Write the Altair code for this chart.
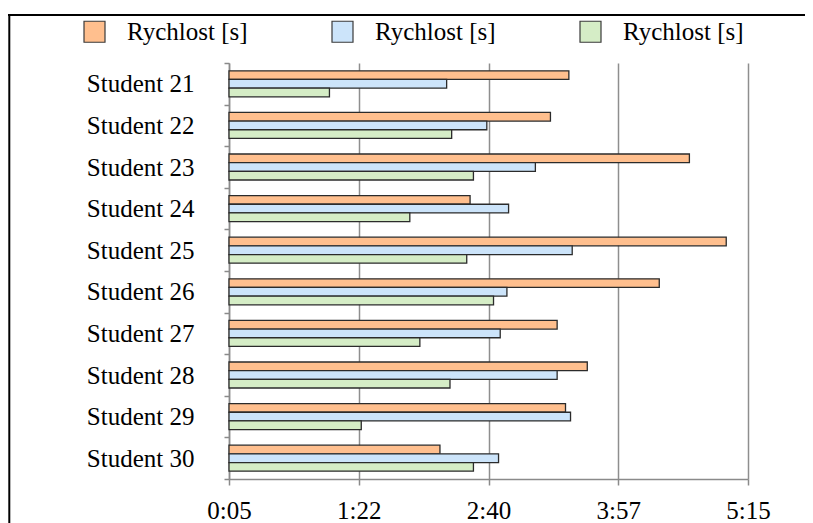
import altair as alt
import pandas as pd

students = ["Student 21", "Student 22", "Student 23", "Student 24", "Student 25",
            "Student 26", "Student 27", "Student 28", "Student 29", "Student 30"]
# times in seconds
series_a = [208, 197, 280, 149, 302, 262, 201, 219, 206, 131]
series_b = [135, 159, 188, 172, 210, 171, 167, 201, 209, 166]
series_c = [65, 138, 151, 113, 147, 163, 119, 137, 84, 151]
series_keys = ["s1", "s2", "s3"]
series_label = "Rychlost [s]"
colors = ["#FFBF8E", "#CCE4FA", "#D5EDC6"]
tick_values = [5, 82.5, 160, 237.5, 315]

rows = []
for key, vals in zip(series_keys, [series_a, series_b, series_c]):
    for s, v in zip(students, vals):
        rows.append({"student": s, "series": key, "value": v})
df = pd.DataFrame(rows)

FONT = "Liberation Serif"

label_expr = ("floor(datum.value/60) + ':' + (floor(datum.value%60) < 10 ? '0' : '') "
              "+ floor(datum.value%60)")

bars = alt.Chart(df).mark_bar(stroke="#2b2b2b", strokeWidth=1.3).encode(
    y=alt.Y("student:N", sort=students,
            scale=alt.Scale(paddingInner=0, paddingOuter=0),
            axis=alt.Axis(title=None, tickBand="extent", grid=False,
                          domainColor="#8a8a8a", domainWidth=1.5,
                          tickColor="#8a8a8a", tickWidth=1.5, tickSize=5,
                          labelFont=FONT, labelFontSize=25, labelColor="black",
                          labelPadding=30)),
    yOffset=alt.YOffset("series:N", sort=series_keys,
                        scale=alt.Scale(paddingInner=0, paddingOuter=0.9)),
    x=alt.X("value:Q", scale=alt.Scale(domain=[5, 315], nice=False, zero=False),
            axis=alt.Axis(title=None, values=tick_values, labelExpr=label_expr,
                          grid=True, gridColor="#8e8e8e", gridWidth=1.5,
                          domainColor="#8a8a8a", domainWidth=1.5,
                          tickColor="#8a8a8a", tickWidth=1.5, tickSize=6,
                          labelFont=FONT, labelFontSize=25, labelColor="black",
                          labelPadding=13, labelFlush=False)),
    x2=alt.datum(5),
    color=alt.Color("series:N",
                    scale=alt.Scale(domain=series_keys, range=colors),
                    legend=alt.Legend(title=None, orient="none", legendX=-147, legendY=-44,
                                      direction="horizontal", columns=3, columnPadding=81,
                                      symbolType="square", symbolSize=441,
                                      symbolStrokeColor="#3a3a3a", symbolStrokeWidth=1.2,
                                      labelFont=FONT, labelFontSize=25, labelColor="black",
                                      labelOffset=20, labelLimit=0,
                                      labelExpr="'" + series_label + "'")),
)

frame_df = pd.DataFrame({"k": [0]})
frame_top = alt.Chart(frame_df).mark_rule(color="black", strokeWidth=2).encode(
    x=alt.value(-221), x2=alt.value(600), y=alt.value(-48))
frame_left = alt.Chart(frame_df).mark_rule(color="black", strokeWidth=2).encode(
    x=alt.value(-219.7), y=alt.value(-49), y2=alt.value(470))

chart = alt.layer(bars, frame_top, frame_left).properties(
    width=519, height=416,
    autosize=alt.AutoSizeParams(type="none"),
    padding={"left": 221, "top": 55, "right": 57, "bottom": 44},
    background="white",
).configure_view(stroke="transparent")

chart.save("out.html", embed_options={"renderer": "svg", "actions": False})
